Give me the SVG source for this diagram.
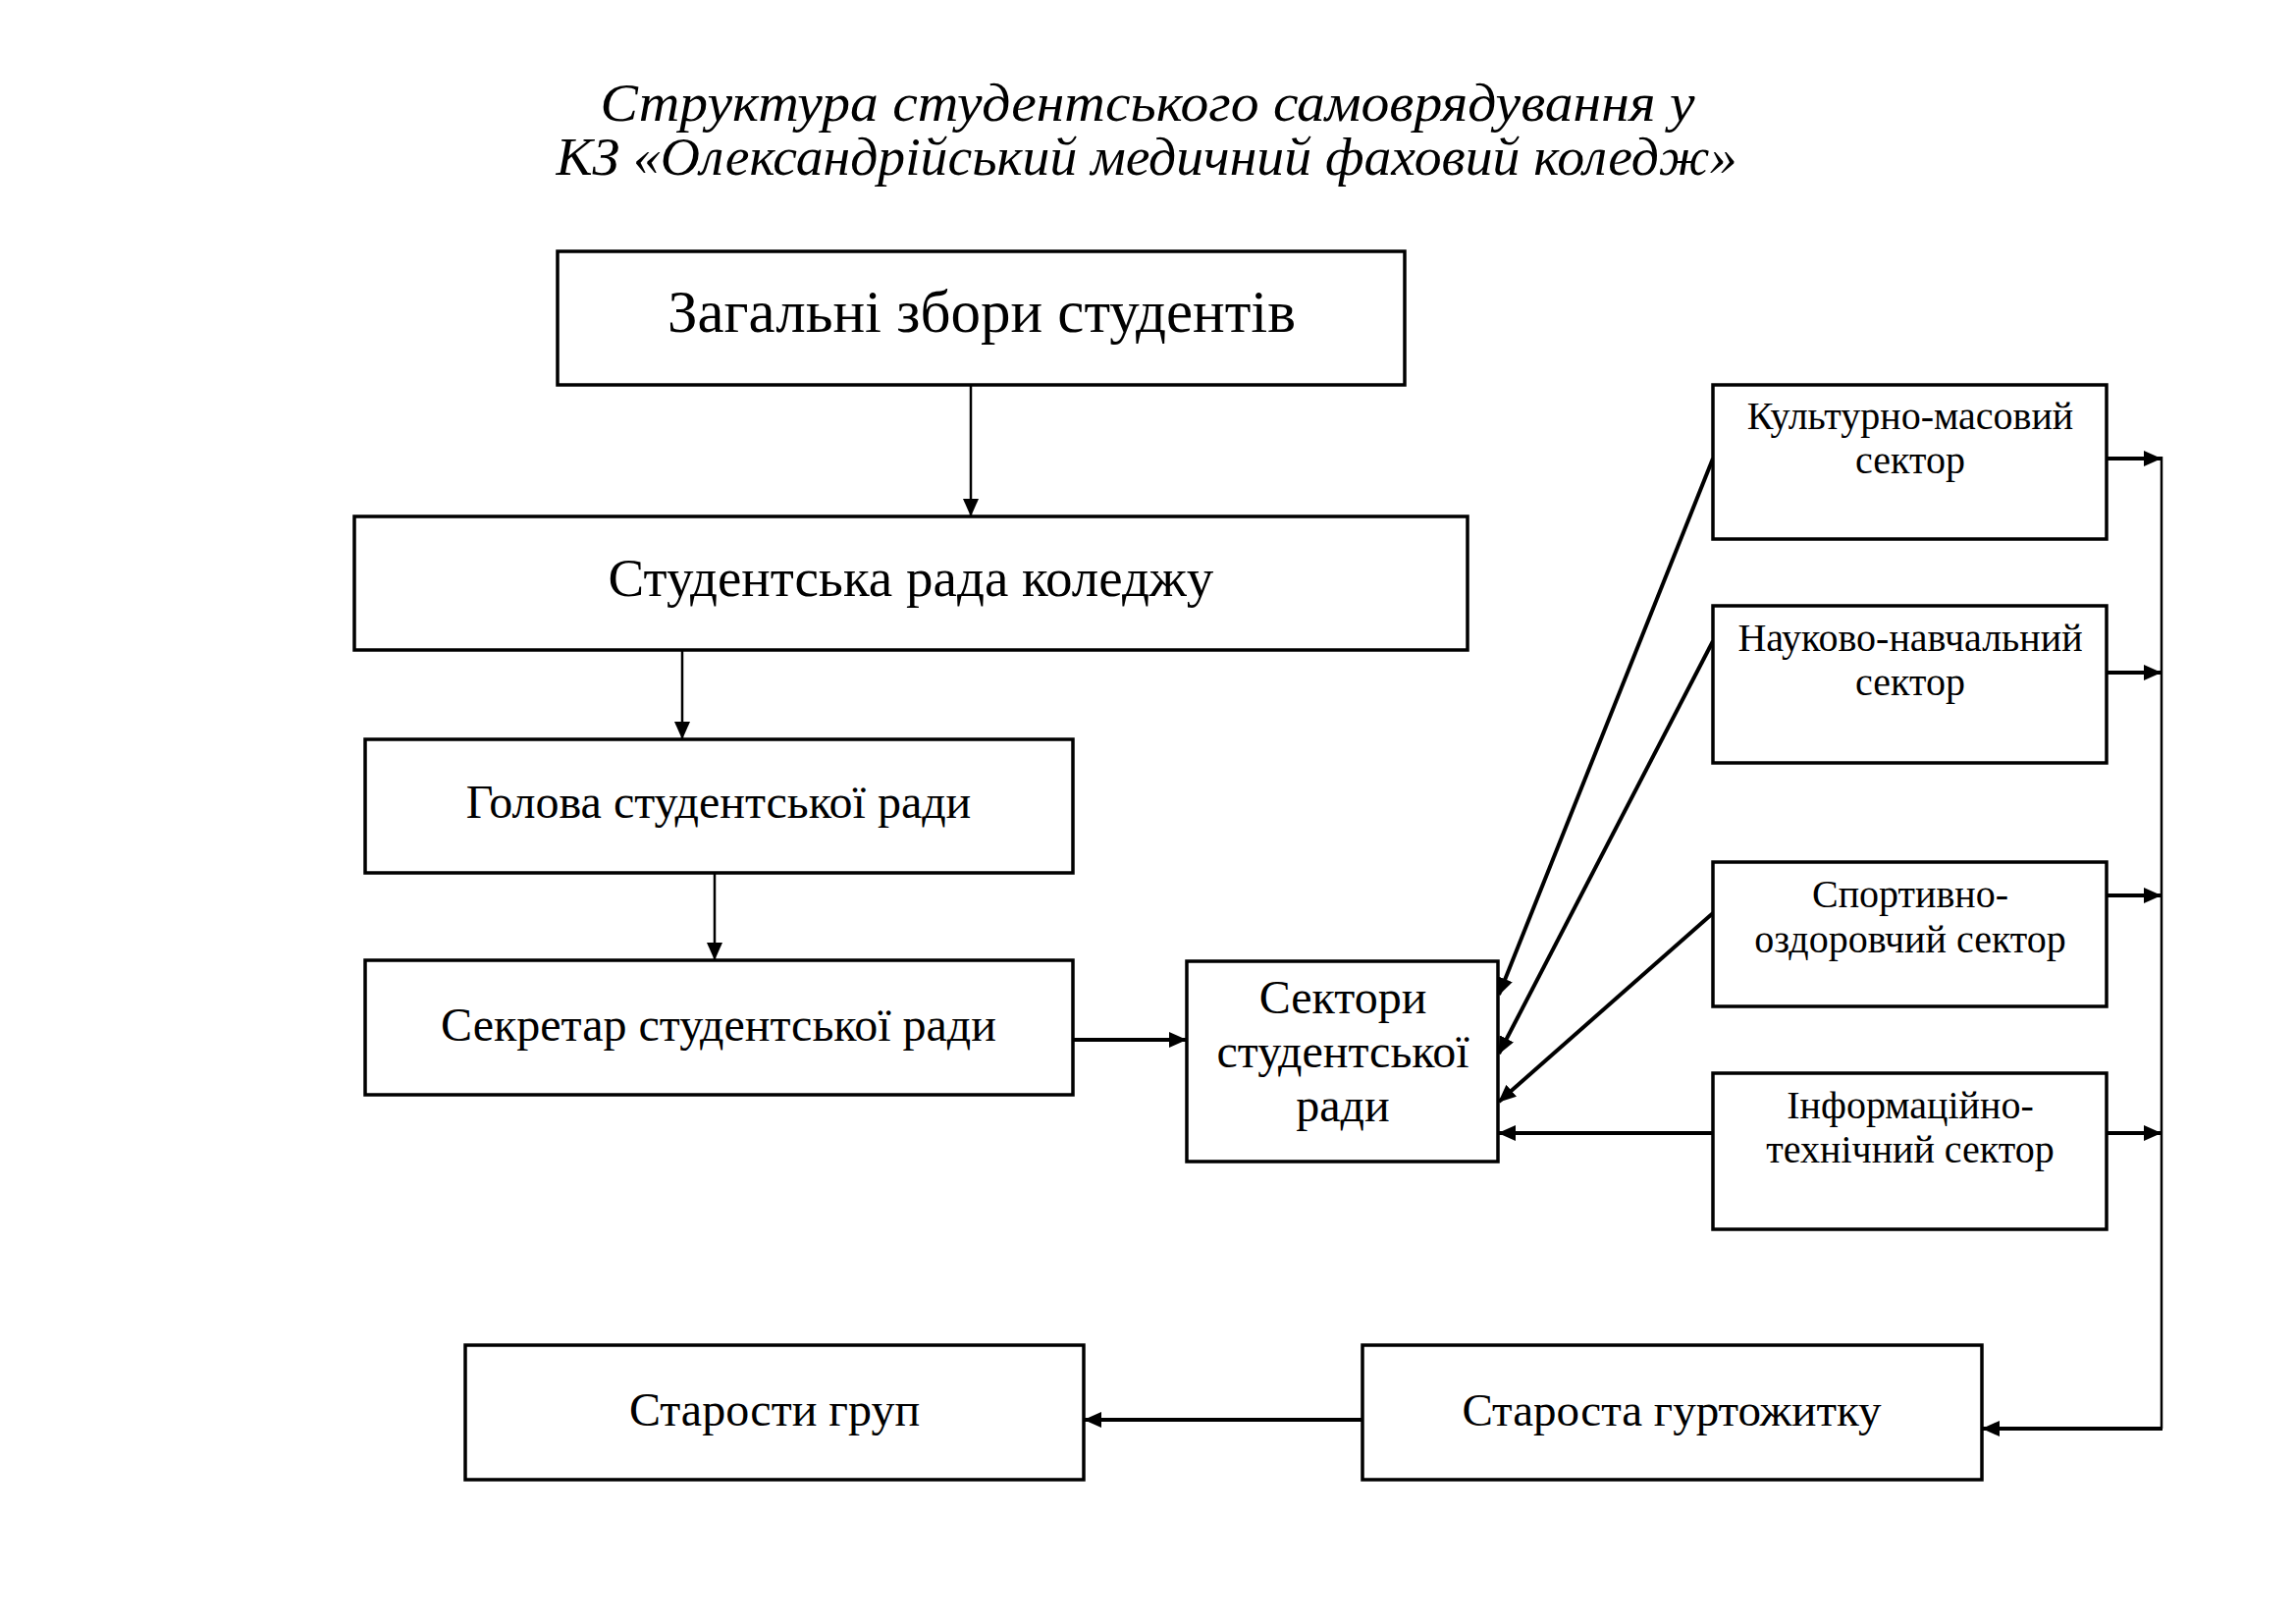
<svg xmlns="http://www.w3.org/2000/svg" width="2339" height="1654" viewBox="0 0 2339 1654">
<style>
.box{fill:#fff;stroke:#000;stroke-width:3.5}
.t{font-family:"Liberation Serif","Times New Roman",serif;fill:#000;text-anchor:middle}
.title{font-family:"Liberation Serif","Times New Roman",serif;font-style:italic;font-size:54px;text-anchor:middle}
.c{fill:none;stroke:#000}
.thin{stroke-width:2.5}
.thick{stroke-width:4}
</style>
<defs>
<marker id="ah" markerUnits="userSpaceOnUse" markerWidth="18" markerHeight="16" refX="17" refY="8" orient="auto">
<path d="M0,0 L18,8 L0,16 Z" fill="#000"/>
</marker>
</defs>
<rect width="2339" height="1654" fill="#fff"/>
<text class="title" x="1169" y="123" textLength="1115" lengthAdjust="spacingAndGlyphs">Структура студентського самоврядування у</text>
<text class="title" x="1168" y="178" textLength="1203" lengthAdjust="spacingAndGlyphs">КЗ «Олександрійський медичний фаховий коледж»</text>

<g id="connectors">
<line class="c thin" x1="989" y1="392" x2="989" y2="525" marker-end="url(#ah)"/>
<line class="c thin" x1="695" y1="662" x2="695" y2="752" marker-end="url(#ah)"/>
<line class="c thin" x1="728" y1="889" x2="728" y2="977" marker-end="url(#ah)"/>
<line class="c thick" x1="1093" y1="1059" x2="1208" y2="1059" marker-end="url(#ah)"/>
<line class="c thick" x1="1745" y1="467" x2="1527" y2="1013" marker-end="url(#ah)"/>
<line class="c thick" x1="1745" y1="653" x2="1527" y2="1073" marker-end="url(#ah)"/>
<line class="c thick" x1="1745" y1="930" x2="1527" y2="1122" marker-end="url(#ah)"/>
<line class="c thick" x1="1745" y1="1154" x2="1527" y2="1154" marker-end="url(#ah)"/>
<line class="c thick" x1="2146" y1="467" x2="2201" y2="467" marker-end="url(#ah)"/>
<line class="c thick" x1="2146" y1="685" x2="2201" y2="685" marker-end="url(#ah)"/>
<line class="c thick" x1="2146" y1="912" x2="2201" y2="912" marker-end="url(#ah)"/>
<line class="c thick" x1="2146" y1="1154" x2="2201" y2="1154" marker-end="url(#ah)"/>
<polyline class="c thin" points="2202,465 2202,1455"/>
<line class="c thick" x1="2203" y1="1455" x2="2020" y2="1455" marker-end="url(#ah)"/>
<line class="c thick" x1="1388" y1="1446" x2="1105" y2="1446" marker-end="url(#ah)"/>
</g>

<g id="n-zagalni">
<rect class="box" x="568" y="256" width="863" height="136"/>
<text class="t" x="1000" y="338" font-size="61">Загальні збори студентів</text>
</g>
<g id="n-rada">
<rect class="box" x="361" y="526" width="1134" height="136"/>
<text class="t" x="928" y="607" font-size="55">Студентська рада коледжу</text>
</g>
<g id="n-golova">
<rect class="box" x="372" y="753" width="721" height="136"/>
<text class="t" x="732" y="833" font-size="48">Голова студентської ради</text>
</g>
<g id="n-sekretar">
<rect class="box" x="372" y="978" width="721" height="137"/>
<text class="t" x="732" y="1060" font-size="48">Секретар студентської ради</text>
</g>
<g id="n-sektory">
<rect class="box" x="1209" y="979" width="317" height="204"/>
<text class="t" x="1368" y="1032" font-size="48">Сектори</text>
<text class="t" x="1368" y="1087" font-size="48">студентської</text>
<text class="t" x="1368" y="1142" font-size="48">ради</text>
</g>
<g id="n-kult">
<rect class="box" x="1745" y="392" width="401" height="157"/>
<text class="t" x="1946" y="437" font-size="40">Культурно-масовий</text>
<text class="t" x="1946" y="482" font-size="40">сектор</text>
</g>
<g id="n-nauk">
<rect class="box" x="1745" y="617" width="401" height="160"/>
<text class="t" x="1946" y="663" font-size="40">Науково-навчальний</text>
<text class="t" x="1946" y="708" font-size="40">сектор</text>
</g>
<g id="n-sport">
<rect class="box" x="1745" y="878" width="401" height="147"/>
<text class="t" x="1946" y="924" font-size="40">Спортивно-</text>
<text class="t" x="1946" y="970" font-size="40">оздоровчий сектор</text>
</g>
<g id="n-inform">
<rect class="box" x="1745" y="1093" width="401" height="159"/>
<text class="t" x="1946" y="1139" font-size="40">Інформаційно-</text>
<text class="t" x="1946" y="1184" font-size="40">технічний сектор</text>
</g>
<g id="n-starosty">
<rect class="box" x="474" y="1370" width="630" height="137"/>
<text class="t" x="789" y="1452" font-size="48">Старости груп</text>
</g>
<g id="n-gurt">
<rect class="box" x="1388" y="1370" width="631" height="137"/>
<text class="t" x="1703" y="1452" font-size="47">Староста гуртожитку</text>
</g>
</svg>
